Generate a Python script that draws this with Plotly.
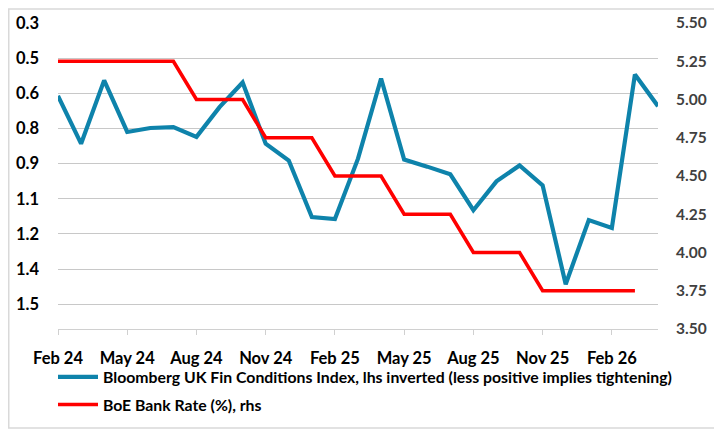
import plotly.graph_objects as go

months = ["Feb 24", "Mar 24", "Apr 24", "May 24", "Jun 24", "Jul 24", "Aug 24", "Sep 24", "Oct 24",
          "Nov 24", "Dec 24", "Jan 25", "Feb 25", "Mar 25", "Apr 25", "May 25", "Jun 25", "Jul 25",
          "Aug 25", "Sep 25", "Oct 25", "Nov 25", "Dec 25", "Jan 26", "Feb 26", "Mar 26", "Apr 26"]

fci = [0.611, 0.815, 0.545, 0.765, 0.748, 0.744, 0.786, 0.659, 0.554,
       0.815, 0.887, 1.128, 1.137, 0.879, 0.537, 0.883, 0.913, 0.946,
       1.099, 0.976, 0.908, 0.993, 1.415, 1.141, 1.175, 0.520, 0.655]

bank_rate = [5.25, 5.25, 5.25, 5.25, 5.25, 5.25, 5.00, 5.00, 5.00,
             4.75, 4.75, 4.75, 4.50, 4.50, 4.50, 4.25, 4.25, 4.25,
             4.00, 4.00, 4.00, 3.75, 3.75, 3.75, 3.75, 3.75]

left_tickvals = [0.3, 0.45, 0.6, 0.75, 0.9, 1.05, 1.2, 1.35, 1.5]
left_ticktext = ["0.3", "0.5", "0.6", "0.8", "0.9", "1.1", "1.2", "1.4", "1.5"]
right_tickvals = [3.5, 3.75, 4.0, 4.25, 4.5, 4.75, 5.0, 5.25, 5.5]
right_ticktext = ["3.50", "3.75", "4.00", "4.25", "4.50", "4.75", "5.00", "5.25", "5.50"]
x_tickvals = ["Feb 24", "May 24", "Aug 24", "Nov 24", "Feb 25", "May 25", "Aug 25", "Nov 25", "Feb 26"]

FONT = "Lato"
# the page has an 8px body margin, so the figure is sized to end at the window edge
W, H = 714, 426
L, R, T, B = 50, 64, 15, 102
PW, PH = W - L - R, H - T - B

fig = go.Figure()
fig.add_trace(go.Scatter(
    x=months, y=fci, mode="lines",
    name="Bloomberg UK Fin Conditions Index, lhs inverted (less positive implies tightening)",
    line=dict(color="#0E83AB", width=4.2), yaxis="y", legendgroup="a"))
fig.add_trace(go.Scatter(
    x=months[:len(bank_rate)], y=bank_rate, mode="lines",
    name="BoE Bank Rate (%), rhs",
    line=dict(color="#FF0000", width=3.6), yaxis="y2", legendgroup="b"))

fig.update_layout(
    width=W, height=H,
    margin=dict(l=L, r=R, t=T, b=B),
    paper_bgcolor="white", plot_bgcolor="white",
    font=dict(family=FONT, color="#000000"),
    showlegend=True,
    legend=dict(orientation="v", x=-5 / PW, xanchor="left", y=-31.5 / PH, yanchor="top",
                font=dict(family=FONT, size=15.8, color="#000000", weight="bold"),
                itemwidth=40, tracegroupgap=4, bgcolor="rgba(0,0,0,0)"),
    xaxis=dict(type="category", categoryorder="array", categoryarray=months,
               range=[0, 26], tickvals=x_tickvals, ticktext=x_tickvals,
               showgrid=False, showline=True, linecolor="#D0D0D0", linewidth=1.3,
               ticks="outside", ticklen=5, tickcolor="#D0D0D0", tickwidth=1.3,
               ticklabelstandoff=9,
               tickfont=dict(family=FONT, size=16.5, color="#000000", weight="bold"),
               zeroline=False, automargin=False),
    yaxis=dict(range=[1.606, 0.3], tickvals=left_tickvals, ticktext=left_ticktext,
               showgrid=True, gridcolor="#C8C8C8", gridwidth=1.3, zeroline=False,
               showline=False, ticks="", ticklabelstandoff=18, automargin=False,
               tickfont=dict(family=FONT, size=16.5, color="#000000", weight="bold")),
    yaxis2=dict(range=[3.5, 5.5], overlaying="y", side="right",
                tickvals=right_tickvals, ticktext=right_ticktext,
                showgrid=False, zeroline=False, showline=False, ticks="",
                ticklabelstandoff=17, automargin=False,
                tickfont=dict(family=FONT, size=15.5, color="#404040", weight="bold")),
    shapes=[dict(type="rect", xref="paper", yref="paper",
                 x0=(0.75 - L) / PW, x1=(W - 2 - L) / PW,
                 y0=(PH + T - (H - 2)) / PH, y1=(PH + T - 0.75) / PH,
                 line=dict(color="#D9D9D9", width=1.5), fillcolor="rgba(0,0,0,0)", layer="below")],
)

fig.write_html("out.html")
